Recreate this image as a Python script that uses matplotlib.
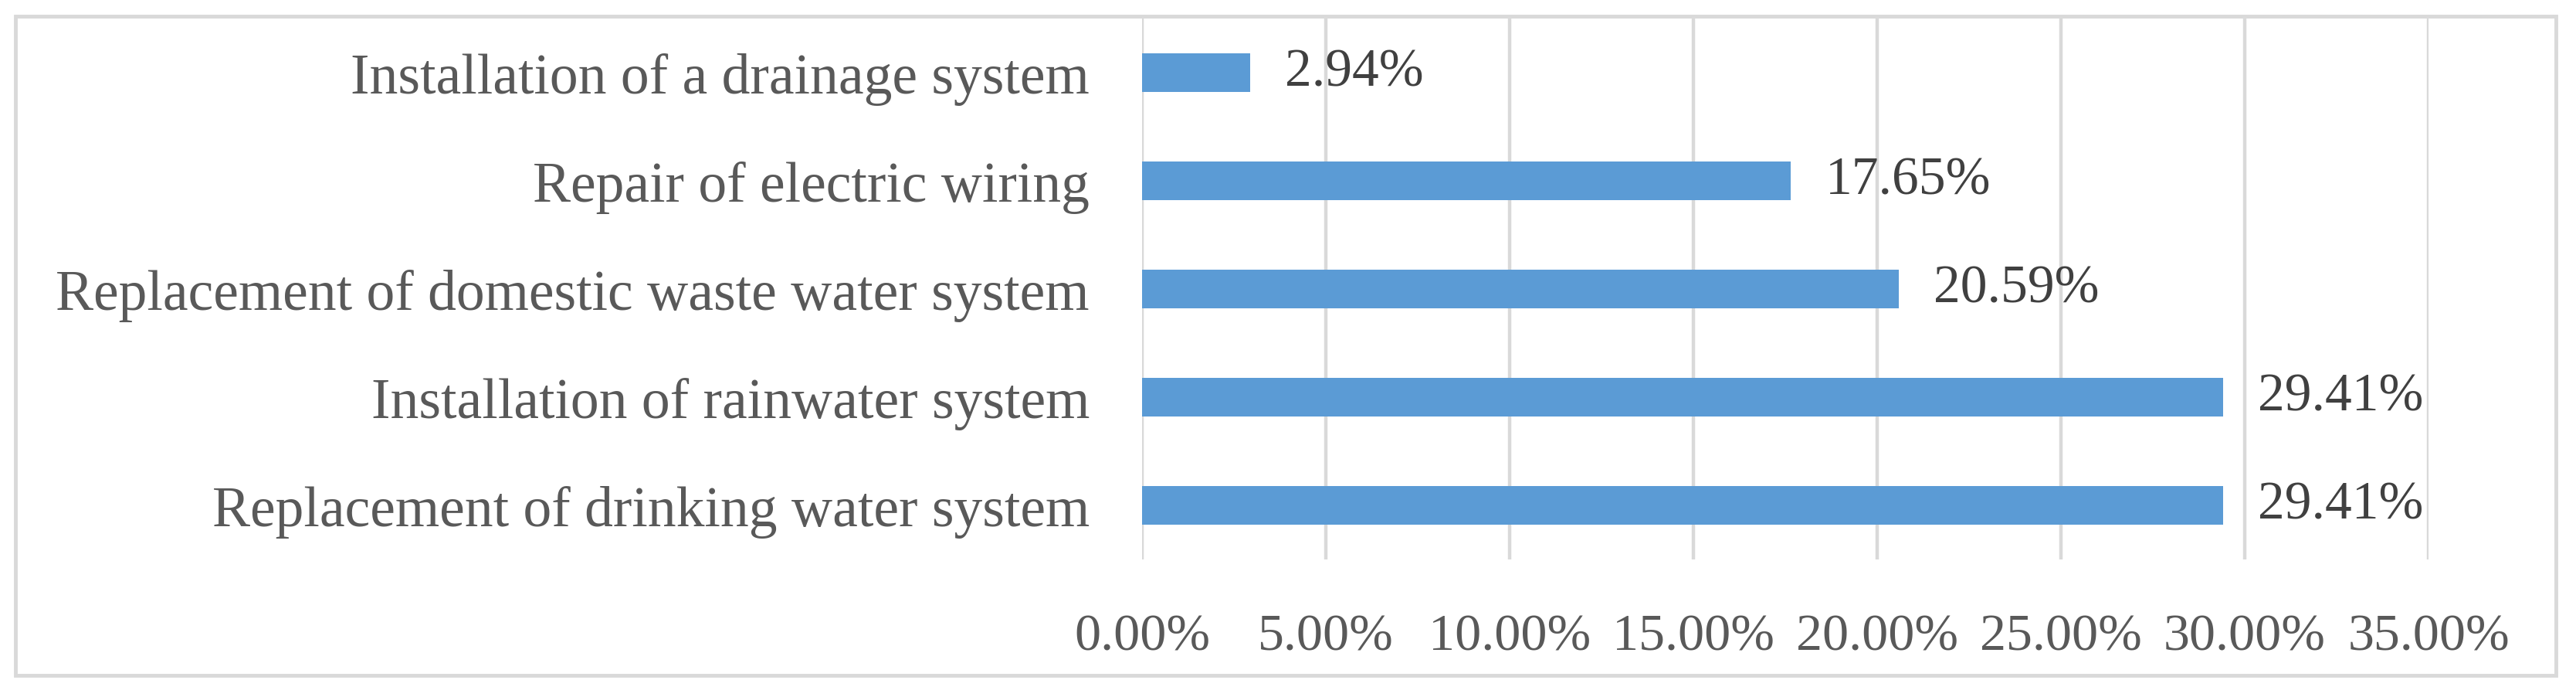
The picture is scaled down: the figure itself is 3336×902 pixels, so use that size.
import numpy as np
from matplotlib import pyplot as plt
from matplotlib.patches import Rectangle
from matplotlib.ticker import FuncFormatter

categories = ["Replacement of drinking water system",
              "Installation of rainwater system",
              "Replacement of domestic waste water system",
              "Repair of electric wiring",
              "Installation of a drainage system"]
values = [29.41, 29.41, 20.59, 17.65, 2.94]
xticks = [0, 5, 10, 15, 20, 25, 30, 35]

plt.rcParams['font.family'] = ['Liberation Serif', 'DejaVu Serif']

W, H = 3336, 903
fig = plt.figure(figsize=(W / 100, H / 100), dpi=100)
ax = fig.add_axes([1479 / W, 1 - 725 / H, (3145 - 1479) / W, (725 - 25) / H])

# chart border
fig.patches.append(Rectangle((20 / W, 1 - 875 / H), (3310 - 20) / W, (875 - 22) / H,
                             transform=fig.transFigure, fill=False,
                             edgecolor='#D9D9D9', linewidth=3.5))

y = np.arange(len(categories))
ax.barh(y, values, height=0.36, color='#5B9BD5', zorder=3)
for yi, v in zip(y, values):
    ax.text(v + 0.95, yi, f"{v:.2f}%", va='center', ha='left',
            fontsize=50, color='#404040')

ax.set_xlim(0, 35)
ax.set_ylim(-0.5, len(categories) - 0.5)
ax.set_xticks(xticks)
ax.xaxis.set_major_formatter(FuncFormatter(lambda v, p: f"{v:.2f}%"))
ax.set_yticks(y)
ax.set_yticklabels(categories)
ax.grid(axis='x', color='#D9D9D9', linewidth=3.2, zorder=0)
ax.tick_params(axis='x', length=0, pad=50, labelsize=49, labelcolor='#595959')
ax.tick_params(axis='y', length=0, pad=49, labelsize=53, labelcolor='#595959')
for s in ax.spines.values():
    s.set_visible(False)

fig.savefig("out.png", dpi=100)
